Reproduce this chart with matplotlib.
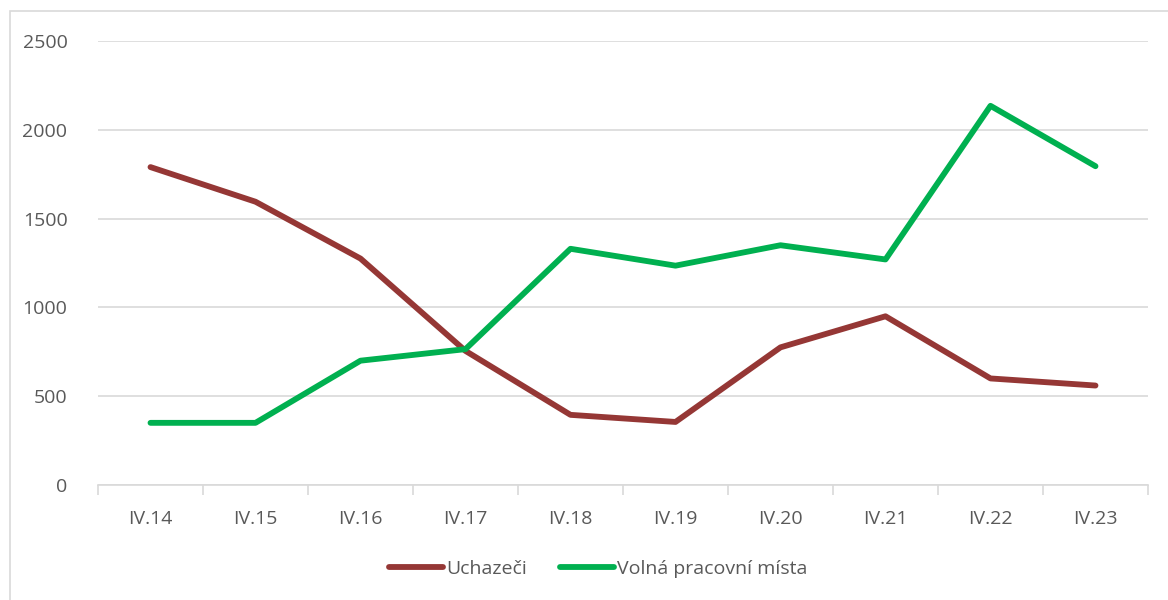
import matplotlib.pyplot as plt
from matplotlib.patches import Rectangle
import numpy as np

kategorie = ['IV.14', 'IV.15', 'IV.16', 'IV.17', 'IV.18', 'IV.19', 'IV.20', 'IV.21', 'IV.22', 'IV.23']
uchazeci = [1790, 1595, 1275, 755, 395, 355, 775, 950, 600, 560]
volna_mista = [350, 350, 700, 765, 1330, 1235, 1350, 1270, 2135, 1795]

plt.rcParams['font.family'] = ['Open Sans', 'DejaVu Sans']

fig = plt.figure(figsize=(11.68, 6), dpi=100)
fig.patches.append(Rectangle((10/1168, -0.1), 1.1, 1 - 11/600 + 0.1, transform=fig.transFigure,
                             fill=False, edgecolor='#d9d9d9', linewidth=1.2))
ax = fig.add_axes([98/1168, 1 - 485/600, 1050/1168, 444/600])

x = np.arange(len(kategorie))
ax.plot(x, uchazeci, color='#953735', linewidth=4.2, solid_capstyle='round', label='Uchazeči')
ax.plot(x, volna_mista, color='#00B050', linewidth=4.2, solid_capstyle='round', label='Volná pracovní místa')

ax.set_xlim(-0.5, len(kategorie) - 0.5)
ax.set_ylim(0, 2500)
ax.set_yticks(range(0, 2501, 500))
ax.yaxis.grid(True, color='#d9d9d9', linewidth=1.2)
ax.set_axisbelow(True)

ax.set_xticks(x)
ax.set_xticklabels(kategorie)
ax.set_xticks(np.arange(-0.5, len(kategorie)), minor=True)
ax.tick_params(axis='x', which='major', length=0, pad=18, labelsize=14, labelcolor='#595959')
ax.tick_params(axis='x', which='minor', length=7, color='#d9d9d9', width=1.2)
ax.tick_params(axis='y', length=0, pad=22, labelsize=14, labelcolor='#595959')

for s in ['top', 'right', 'left']:
    ax.spines[s].set_visible(False)
ax.spines['bottom'].set_color('#d9d9d9')
ax.spines['bottom'].set_linewidth(1.2)

fig.legend(loc='center', bbox_to_anchor=(0.512, 1 - 569/600), ncol=2, frameon=False,
           fontsize=14, labelcolor='#595959', handlelength=2.8, handletextpad=0.15,
           columnspacing=1.7)

fig.savefig('out.png', dpi=100)
